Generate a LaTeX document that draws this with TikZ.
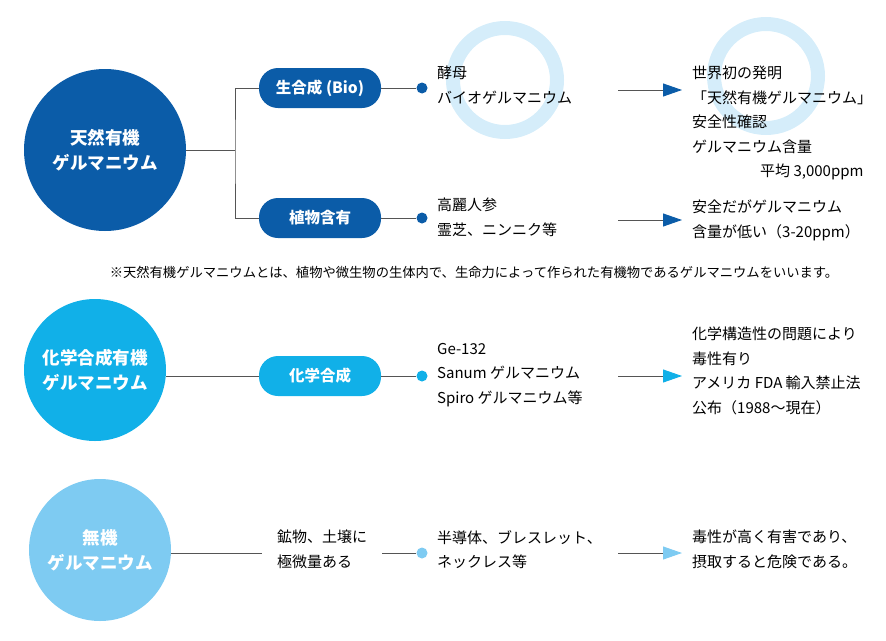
\documentclass[tikz,border=0pt]{standalone}
\usepackage{fontspec}
\setmainfont{Noto Sans CJK JP}
\usetikzlibrary{arrows.meta}
\definecolor{dblue}{HTML}{0B5CA8}
\definecolor{cblue}{HTML}{11B0E8}
\definecolor{lblue}{HTML}{7ECBF2}
\definecolor{ring}{HTML}{D5EDFA}
\definecolor{gline}{HTML}{555555}
\tikzset{
 big/.style={circle,fill=#1,text=white,font=\fontsize{17.5}{25}\selectfont\bfseries,align=center,inner sep=0pt},
 pill/.style={rounded corners=19pt,fill=#1,text=white,minimum width=122pt,minimum height=40pt,font=\fontsize{15.5}{18}\selectfont\bfseries},
 dot/.style={circle,fill=#1,minimum size=11pt,inner sep=0pt},
 txt/.style={anchor=north west,align=left,font=\fontsize{15}{24.5}\selectfont,inner sep=0pt},
 conn/.style={draw=gline,line width=0.8pt},
 arr/.style={draw=gline,line width=0.9pt,-{Triangle[length=19pt,width=13pt,color=#1]}},
}
\begin{document}
\begin{tikzpicture}[x=1pt,y=-1pt]
\useasboundingbox (0,0) rectangle (886,640);
\draw[ring,line width=14pt] (505,80) circle (52);
\draw[ring,line width=14pt] (766,76) circle (52);
% row 1
\node[big=dblue,minimum size=162pt] (c1) at (105,150) {天然有機\\ゲルマニウム};
\node[pill=dblue] (p1) at (320,88) {生合成 (Bio)};
\node[pill=dblue] (p2) at (320,218) {植物含有};
\node[dot=dblue] (d1) at (422,88) {};
\node[dot=dblue] (d2) at (422,218) {};
\coordinate (j) at (235,150);
\draw[conn] (c1.east) -- (j);
\draw[conn] (p1.west) -| (j) |- (p2.west);
\draw[conn] (p1.east) -- (d1);
\draw[conn] (p2.east) -- (d2);
\node[txt] (t1) at (437,66) {酵母\\バイオゲルマニウム};
\node[txt] (t2) at (437,198) {高麗人参\\霊芝、ニンニク等};
\coordinate (a1s) at (618,90); \coordinate (a1e) at (682,90);
\draw[arr=dblue] (a1s) -- (a1e);
\coordinate (a2s) at (618,220); \coordinate (a2e) at (682,220);
\draw[arr=dblue] (a2s) -- (a2e);
\node[txt] (r1) at (692,66) {世界初の発明\\「天然有機ゲルマニウム」\\安全性確認\\ゲルマニウム含量\\\hspace*{68pt}平均 3,000ppm};
\node[txt] (r2) at (692,200) {安全だがゲルマニウム\\含量が低い（3-20ppm）};
\node[font=\fontsize{13.3}{15}\selectfont] (note) at (474,272) {※天然有機ゲルマニウムとは、植物や微生物の生体内で、生命力によって作られた有機物であるゲルマニウムをいいます。};
% row 2
\node[big=cblue,minimum size=142pt] (c2) at (95,370) {化学合成有機\\ゲルマニウム};
\node[pill=cblue] (p3) at (320,376) {化学合成};
\node[dot=cblue] (d3) at (422,376) {};
\draw[conn] (c2.east |- p3.west) -- (p3.west);
\draw[conn] (p3.east) -- (d3);
\node[txt] (t3) at (437,343) {Ge-132\\Sanum ゲルマニウム\\Spiro ゲルマニウム等};
\coordinate (a3s) at (618,376); \coordinate (a3e) at (682,376);
\draw[arr=cblue] (a3s) -- (a3e);
\node[txt] (r3) at (692,327) {化学構造性の問題により\\毒性有り\\アメリカ FDA 輸入禁止法\\公布（1988～現在）};
% row 3
\node[big=lblue,minimum size=142pt] (c3) at (100,550) {無機\\ゲルマニウム};
\coordinate (m3) at (262,553);
\draw[conn] (c3.east |- m3) -- (m3);
\node[txt] (t4) at (277,530) {鉱物、土壌に\\極微量ある};
\node[dot=lblue] (d4) at (422,553) {};
\coordinate (m4) at (382,553);
\draw[conn] (m4) -- (d4);
\node[txt] (t5) at (437,530) {半導体、ブレスレット、\\ネックレス等};
\coordinate (a4s) at (618,553); \coordinate (a4e) at (682,553);
\draw[arr=lblue] (a4s) -- (a4e);
\node[txt] (r4) at (692,530) {毒性が高く有害であり、\\摂取すると危険である。};
\end{tikzpicture}
\end{document}
